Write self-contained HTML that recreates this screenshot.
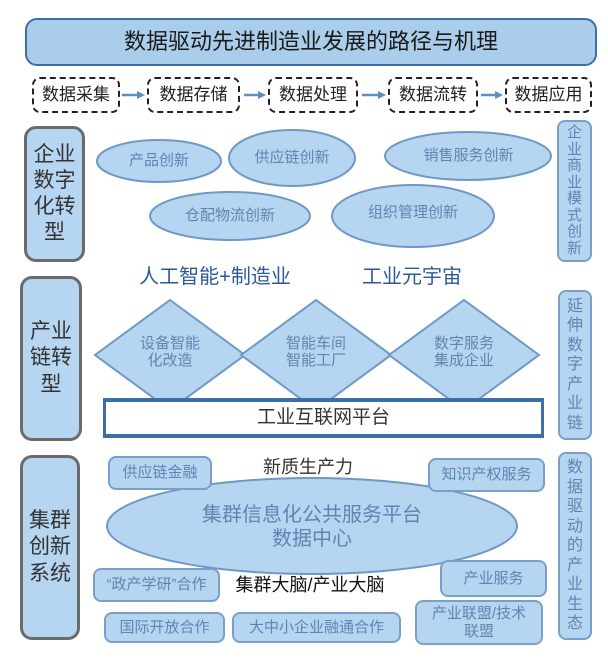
<!DOCTYPE html>
<html><head><meta charset="utf-8"><style>
body{margin:0;width:608px;height:665px;background:#fff;position:relative;overflow:hidden;font-family:"Liberation Sans","Noto Sans CJK SC",sans-serif}
.a{position:absolute;box-sizing:border-box;display:flex;align-items:center;justify-content:center;text-align:center;line-height:1.15}
.b{background:#b5d5f0;border:2px solid #7aa0c8;border-radius:8px;color:#5f86b3;font-size:15px}
.g{background:#b5d5f0;border:3px solid #6b6b6b;border-radius:12px;color:#333;font-size:21px;line-height:1.25}
.v{background:#b5d5f0;border:2px solid #7aa0c8;border-radius:8px;color:#5f86b3;font-size:16px;line-height:1.22}
.d{border:2px dashed #222;border-radius:8px;font-size:17px;color:#222;background:#fff}
.t{color:#2a5a9a;font-size:20px;white-space:nowrap}
</style></head><body>
<svg width="608" height="665" style="position:absolute;left:0;top:0">
<g fill="#b5d5f0" stroke="#6f98c4" stroke-width="2">
<ellipse cx="159" cy="161" rx="62" ry="21"/>
<ellipse cx="292" cy="158" rx="63" ry="28"/>
<ellipse cx="468" cy="156" rx="83" ry="24"/>
<ellipse cx="230" cy="216" rx="80" ry="24"/>
<ellipse cx="413" cy="216" rx="81" ry="31"/>
<polygon points="170,300 245,355 170,410 95,355"/>
<polygon points="316,300 391,355 316,410 241,355"/>
<polygon points="464,300 539,355 464,410 389,355"/>
<ellipse cx="312" cy="526" rx="205" ry="48"/>
</g>
<g stroke="#5f8fc0" stroke-width="2.5" fill="#5f8fc0">
<line x1="122" y1="95" x2="138" y2="95"/><polygon points="145,95 137,91 137,99" stroke="none"/>
<line x1="244" y1="95" x2="259" y2="95"/><polygon points="266,95 258,91 258,99" stroke="none"/>
<line x1="362" y1="95" x2="379" y2="95"/><polygon points="386,95 378,91 378,99" stroke="none"/>
<line x1="481" y1="95" x2="496" y2="95"/><polygon points="503,95 495,91 495,99" stroke="none"/>
</g>
</svg>
<div class="a" style="left:25px;top:18px;width:572px;height:48px;background:#a9cdea;border:2px solid #3d6ea6;border-radius:12px;font-size:22px;color:#1a1a1a">数据驱动先进制造业发展的路径与机理</div>
<div class="a d" style="left:32px;top:77px;width:88px;height:36px">数据采集</div>
<div class="a d" style="left:147px;top:77px;width:93px;height:36px">数据存储</div>
<div class="a d" style="left:268px;top:77px;width:90px;height:36px">数据处理</div>
<div class="a d" style="left:388px;top:77px;width:90px;height:36px">数据流转</div>
<div class="a d" style="left:505px;top:77px;width:87px;height:36px">数据应用</div>

<div class="a g" style="left:24px;top:126px;width:61px;height:136px">企业<br>数字<br>化转<br>型</div>
<div class="a g" style="left:20px;top:276px;width:62px;height:165px">产业<br>链转<br>型</div>
<div class="a g" style="left:20px;top:455px;width:60px;height:185px">集群<br>创新<br>系统</div>

<div class="a v" style="left:557px;top:120px;width:35px;height:142px;font-size:15px;line-height:1.1">企<br>业<br>商<br>业<br>模<br>式<br>创<br>新</div>
<div class="a v" style="left:558px;top:290px;width:34px;height:150px">延<br>伸<br>数<br>字<br>产<br>业<br>链</div>
<div class="a v" style="left:558px;top:452px;width:34px;height:188px">数<br>据<br>驱<br>动<br>的<br>产<br>业<br>生<br>态</div>

<div class="a" style="left:97px;top:148px;width:124px;height:26px;color:#5f86b3;font-size:15px">产品创新</div>
<div class="a" style="left:229px;top:145px;width:126px;height:26px;color:#5f86b3;font-size:15px">供应链创新</div>
<div class="a" style="left:385px;top:143px;width:167px;height:26px;color:#5f86b3;font-size:15px">销售服务创新</div>
<div class="a" style="left:150px;top:203px;width:160px;height:26px;color:#5f86b3;font-size:15px">仓配物流创新</div>
<div class="a" style="left:332px;top:200px;width:162px;height:26px;color:#5f86b3;font-size:15px">组织管理创新</div>

<div class="a t" style="left:115px;top:264px;width:200px;height:26px">人工智能+制造业</div>
<div class="a t" style="left:342px;top:264px;width:140px;height:26px">工业元宇宙</div>

<div class="a" style="left:120px;top:330px;width:100px;height:44px;color:#5f86b3;font-size:15px">设备智能<br>化改造</div>
<div class="a" style="left:266px;top:330px;width:100px;height:44px;color:#5f86b3;font-size:15px">智能车间<br>智能工厂</div>
<div class="a" style="left:414px;top:330px;width:100px;height:44px;color:#5f86b3;font-size:15px">数字服务<br>集成企业</div>

<div class="a" style="left:103px;top:398px;width:441px;height:40px;background:#fff;border:3px solid #3d6ea6;border-top-width:4px;border-bottom-width:4px;font-size:19px;color:#333">工业互联网平台</div>

<div class="a b" style="left:108px;top:456px;width:104px;height:34px">供应链金融</div>
<div class="a" style="left:240px;top:454px;width:136px;height:26px;color:#333;font-size:18px">新质生产力</div>
<div class="a b" style="left:428px;top:458px;width:117px;height:34px">知识产权服务</div>
<div class="a" style="left:170px;top:500px;width:284px;height:54px;color:#5f86b3;font-size:20px;line-height:1.2">集群信息化公共服务平台<br>数据中心</div>

<div class="a b" style="left:93px;top:568px;width:127px;height:34px">“政产学研”合作</div>
<div class="a" style="left:222px;top:572px;width:176px;height:26px;color:#111;font-size:18px">集群大脑/产业大脑</div>
<div class="a b" style="left:440px;top:560px;width:107px;height:37px">产业服务</div>
<div class="a b" style="left:104px;top:612px;width:121px;height:31px">国际开放合作</div>
<div class="a b" style="left:232px;top:612px;width:169px;height:31px">大中小企业融通合作</div>
<div class="a b" style="left:415px;top:600px;width:128px;height:45px">产业联盟/技术<br>联盟</div>
</body></html>
